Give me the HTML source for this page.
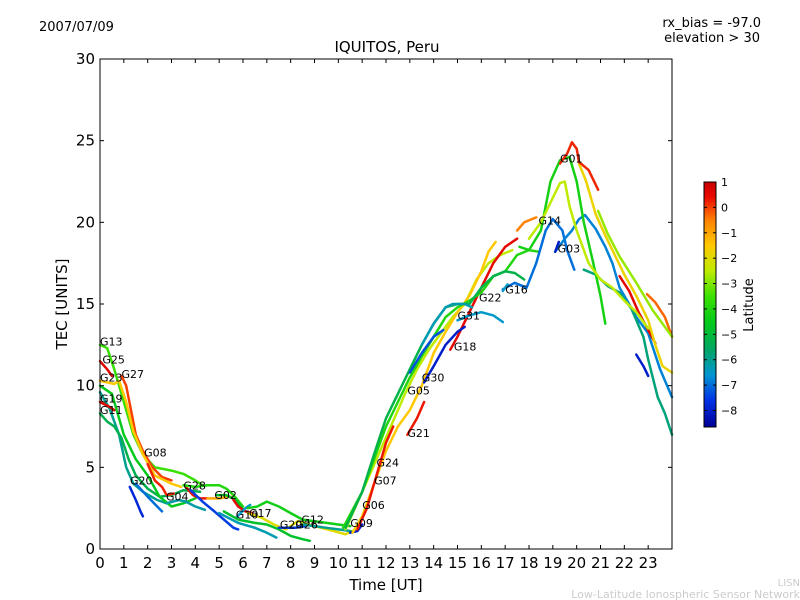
<!DOCTYPE html>
<html><head><meta charset="utf-8"><style>
html,body{margin:0;padding:0;background:#fff;width:800px;height:600px;overflow:hidden}
svg{display:block;font-family:"DejaVu Sans","Liberation Sans",sans-serif}
</style></head><body>
<svg id="chart" width="800" height="600" viewBox="0 0 800 600">
<rect x="0" y="0" width="800" height="600" fill="#fff"/>
<text x="39" y="31" font-size="13">2007/07/09</text>
<text x="761" y="27" font-size="13" text-anchor="end">rx_bias = -97.0</text>
<text x="760" y="42" font-size="13" text-anchor="end">elevation &gt; 30</text>
<text x="387" y="52" font-size="15" text-anchor="middle">IQUITOS, Peru</text>
<g id="plot"></g>
<rect x="100" y="59" width="572" height="490" fill="none" stroke="#000" stroke-width="1"/>
<g id="axes"></g>
<text x="386" y="590" font-size="15" text-anchor="middle">Time [UT]</text>
<text x="67" y="304" font-size="15" text-anchor="middle" transform="rotate(-90 67 304)">TEC [UNITS]</text>
<g id="cbar"></g>
<text x="753" y="305" font-size="13" text-anchor="middle" transform="rotate(-90 753 305)">Latitude</text>
<text x="800" y="586" font-size="10" fill="#ccc" text-anchor="end">LISN</text>
<text x="800" y="598" font-size="11" fill="#ccc" text-anchor="end">Low-Latitude Ionospheric Sensor Network</text>
</svg>
<script>
const xTicks=[0,1,2,3,4,5,6,7,8,9,10,11,12,13,14,15,16,17,18,19,20,21,22,23];
const yTicks=[0,5,10,15,20,25,30];
const cbTicks=[1,0,-1,-2,-3,-4,-5,-6,-7,-8];
const seriesLat=[-3.6,0.6,0,0,-1.5,-6,0.6,-5.3,-4.5,-7.8,-7,0.2,-6.2,0.3,-1,-4,-7.5,-4.8,0.5,-6.5,-4.3,-2,-6.3,-4.8,-7.5,-6,-8,
-2.5,-1.5,0.3,0.3,0.5,-0.5,-4,-5.2,-6.3,-6.5,-8,-7.3,-7,-6.8,-8,-5.8,-6.5,-8,0.5,-0.3,-1.8,-2.8,-4.2,-2.5,0.2];
const seriesPts=[
[[0,12.5],[0.3,12.3],[0.6,11],[1,9],[1.4,7],[1.8,5.8],[2.3,5],[3,4.8],[3.5,4.6],[4,4.2],[4.3,3.9]],
[[0,11.5],[0.3,11],[0.5,10.6]],
[[0.9,10.6],[1.1,10],[1.3,8.5],[1.5,7],[1.8,6]],
[[1.8,6],[2.2,5],[2.6,4.4],[3,4.2]],
[[0,10.3],[0.6,10.1],[0.8,10.3],[1.1,9],[1.4,7.2],[1.8,5.8],[2.3,4.5],[3,4],[3.4,3.8]],
[[0,9.6],[0.4,8.6],[0.8,7],[1.1,5],[1.4,4],[1.8,3.5],[2.4,3],[2.8,2.8]],
[[0,9],[0.4,8.7],[0.6,8.5]],
[[0,8.3],[0.3,7.8],[0.6,7.5],[0.9,6.8],[1.2,5.5],[1.5,4.5],[2,3.7],[2.5,3.2],[3,3.3],[3.5,3.6],[4.2,3.5]],
[[0,10],[0.5,9.5],[0.8,8],[1,7],[1.5,5.5],[2,4.5],[2.5,3.2],[3,2.6],[3.5,2.8],[4,3.1]],
[[1.25,3.8],[1.5,3],[1.7,2.3],[1.8,2]],
[[1.5,4],[2,3.2],[2.4,2.6],[2.6,2.3]],
[[2,5.2],[2.3,4.2],[2.6,3.8],[2.8,3.3],[3.1,3.4]],
[[2.8,2.8],[3.3,3],[3.6,2.9],[4,2.6],[4.4,2.4]],
[[3.6,3.8],[3.9,3.3],[4.2,3.1],[4.5,3.1]],
[[4.5,3.1],[5,3.1],[5.5,3.2]],
[[3.5,3.9],[4,3.8],[4.5,3.9],[5,3.9],[5.3,3.7],[5.6,3.3],[6,2.6]],
[[3.8,3.6],[4.3,2.9],[4.8,2.3],[5.2,1.8],[5.6,1.3],[5.8,1.2]],
[[4.9,3.3],[5.3,3.3],[5.7,3],[6,2.4]],
[[5.6,3],[5.8,2.6],[6.1,2.3],[6.4,2.2]],
[[5.7,1.9],[6.1,2.5],[6.3,2.7]],
[[6.2,2.5],[6.6,2.6],[7,2.9],[7.5,2.6],[8,2.2],[8.5,1.8],[9,1.7],[9.5,1.6],[10,1.5],[10.5,1.4]],
[[6.2,2.2],[6.8,1.9],[7.3,1.5],[7.8,1.2],[8.3,1.7],[9,1.4],[9.8,1.1],[10.3,0.9],[10.6,1.1]],
[[5,2.2],[5.8,1.6],[6.5,1.3],[7,1],[7.4,0.7]],
[[5.2,2.3],[5.8,1.8],[6.5,1.6],[7,1.5],[7.5,1.2],[8,0.8],[8.5,0.6],[8.8,0.5]],
[[7.5,1.3],[8.2,1.3],[8.6,1.4]],
[[8.5,1.5],[9,1.4],[9.5,1.3],[10,1.2],[10.5,1.1]],
[[10.5,1.0],[10.8,1.1],[11,1.5]],
[[10.3,1.2],[11,3.5],[11.6,5.5],[12.2,7.5],[12.8,9.5],[13.3,11],[13.8,12.2],[14.3,13.2],[14.8,14.2],[15.3,15],[15.8,16.5],[16.3,17.5],[16.8,18],[17.3,18.3]],
[[10.6,1.0],[11,2],[11.5,4],[12,6],[12.5,7.5],[13,8.5],[13.5,10],[14,12],[14.5,13.3],[15,14.5],[15.5,15.5],[16,17],[16.3,18.2],[16.6,18.8]],
[[10.8,1.2],[11.2,2.5],[11.6,4.5],[12,6.5],[12.3,7.5]],
[[12.9,7],[13.3,8],[13.6,9]],
[[14.7,12.2],[15,13],[15.5,14.5],[16,16],[16.5,17.5],[17,18.5],[17.5,19]],
[[17.5,19.5],[17.8,20],[18.3,20.3]],
[[10.2,1.3],[11,3.5],[11.5,5.5],[12,7.5],[12.5,9],[13,10.5],[13.5,11.8],[14,13],[14.5,14.2],[15,14.8],[15.5,15.2],[16,15.7],[16.5,16.7],[17,17],[17.5,18],[18,18.3],[18.4,18.2]],
[[10.3,1.3],[11,3.5],[11.5,5.8],[12,8],[12.5,9.5],[13,11],[13.5,12.5],[14,13.8],[14.5,14.8],[15,15],[15.5,15],[16,16],[16.5,16.7],[17,17],[17.4,16.9],[17.8,16.5]],
[[13.5,12.5],[14,13.8],[14.5,14.8],[14.8,15],[15.3,15],[15.6,14.8]],
[[15,14],[15.5,14.3],[16,14.5],[16.5,14.3],[16.9,13.9]],
[[13.6,10.2],[14,11.2],[14.5,12.5],[15,13.3],[15.3,13.6]],
[[13,10.8],[13.5,12],[14,13],[14.4,13.4]],
[[16.9,15.9],[17.4,16.3],[17.9,16],[18.3,17.5],[18.7,19.5],[19,20.2],[19.4,19.5],[19.6,18.3],[19.9,17.1]],
[[19.1,18.2],[19.5,19],[19.8,19.5],[20.1,20.2],[20.35,20.45],[20.8,19.6],[21.2,18.5],[21.5,17.5],[21.8,16],[22.2,15],[22.5,14.2],[23,13.2],[23.5,11],[24,9.3]],
[[19.1,18.2],[19.25,18.8]],
[[20.3,17.1],[20.8,16.8],[21.3,16.1],[21.8,15.7],[22.3,14.7],[22.8,13],[23,11.6],[23.4,9.3],[23.7,8.3],[24,7.0]],
[[16.9,15.8],[17.1,16.2]],
[[22.5,11.9],[22.8,11.2],[23,10.6]],
[[21.8,16.7],[22.2,15.8],[22.6,14.5],[23.3,12.6]],
[[22.95,15.6],[23.3,15.1],[23.7,14.2],[24,13]],
[[20.1,23.6],[20.4,22.5],[20.8,20.5],[21.2,19.2],[21.6,18],[22,16.8],[22.5,15.5],[23,14],[23.3,12.5],[23.6,11.2],[24,10.8]],
[[20.9,20.7],[21.3,19.3],[21.8,17.9],[22.5,16.3],[23.2,14.6],[24,13]],
[[17.6,18.5],[18,18.3],[18.5,19.5],[18.9,22.5],[19.3,23.8],[19.7,24],[20,22.5],[20.3,20],[20.7,17.5],[21,15.5],[21.2,13.8]],
[[18,19],[18.5,20],[19,21.5],[19.3,22.4],[19.5,22.5],[19.7,21],[20,19.5],[20.5,17.5],[21,16.5],[21.5,16],[22,15.2],[22.5,14.5],[23,13.5]],
[[19.3,23.6],[19.6,24.2],[19.8,24.9],[20,24.5],[20.1,23.7],[20.5,23.2],[20.9,22]]
];
const labelNames=["G13","G25","G23","G27","G19","G11","G08","G20","G04","G28","G02","G10","G17","G29","G26","G12","G09","G06","G07","G24","G21","G05","G30","G18","G31","G22","G16","G14","G03","G01"];
const labelHour=[0,0.1,0,0.9,0,0,1.85,1.26,2.77,3.5,4.8,5.7,6.25,7.55,8.2,8.45,10.5,11,11.5,11.6,12.9,12.9,13.5,14.85,15,15.9,17,18.4,19.2,19.3];
const labelTec=[12.7,11.6,10.5,10.7,9.2,8.5,5.9,4.2,3.2,3.9,3.3,2.1,2.2,1.5,1.5,1.8,1.6,2.7,4.2,5.3,7.1,9.7,10.5,12.4,14.3,15.4,15.9,20.1,18.4,23.9];

const NS="http://www.w3.org/2000/svg";
const X0=100,X1=672,Y0=549,Y1=59;
const xs=h=>X0+h*(X1-X0)/24;
const ys=t=>Y0-t*(Y0-Y1)/30;
const vmin=-8.65,vmax=1.0;
const cmStops=[[-8.65,[0,0,150]],[-7.6,[0,50,230]],[-6.6,[0,150,210]],[-5.6,[0,165,100]],[-4.6,[0,200,30]],[-3.5,[60,225,0]],[-2.5,[190,235,0]],[-1.5,[255,200,0]],[-0.5,[255,130,0]],[0.4,[235,10,0]],[1.0,[200,0,0]]];
function cmap(lat){
 if(lat<=cmStops[0][0])return 'rgb('+cmStops[0][1]+')';
 for(let i=1;i<cmStops.length;i++){if(lat<=cmStops[i][0]){const a=cmStops[i-1],b=cmStops[i];const f=(lat-a[0])/(b[0]-a[0]);
  return 'rgb('+a[1].map((c,k)=>Math.round(c+(b[1][k]-c)*f)).join(',')+')';}}
 return 'rgb('+cmStops[cmStops.length-1][1]+')';}
function mk(tag,attrs,parent){const e=document.createElementNS(NS,tag);for(const k in attrs)e.setAttribute(k,attrs[k]);parent.appendChild(e);return e;}
const plot=document.getElementById('plot');
seriesPts.forEach((pts,i)=>{
 const d=pts.map((p,j)=>(j?'L':'M')+xs(p[0]).toFixed(1)+' '+ys(p[1]).toFixed(1)).join(' ');
 const p=mk('path',{d:d,fill:'none',stroke:cmap(seriesLat[i]),'stroke-width':2.5,'stroke-linejoin':'round','stroke-linecap':'round'},plot);
 
 
});
labelNames.forEach((n,i)=>{
 const t=mk('text',{x:xs(labelHour[i]).toFixed(1),y:(ys(labelTec[i])+4).toFixed(1),'font-size':11},plot);
 t.textContent=n;
 
 
});
const ax=document.getElementById('axes');
xTicks.forEach(v=>{
 const x=xs(v);
 mk('line',{x1:x,x2:x,y1:Y0,y2:Y0-4,stroke:'#000'},ax);
 mk('line',{x1:x,x2:x,y1:Y1,y2:Y1+4,stroke:'#000'},ax);
 const t=mk('text',{x:x,y:568,'font-size':15,'text-anchor':'middle'},ax);
 t.textContent=v;
 
 
});
yTicks.forEach(v=>{
 const y=ys(v);
 mk('line',{x1:X0,x2:X0+4,y1:y,y2:y,stroke:'#000'},ax);
 mk('line',{x1:X1,x2:X1-4,y1:y,y2:y,stroke:'#000'},ax);
 const t=mk('text',{x:95,y:y+5,'font-size':15,'text-anchor':'end'},ax);
 t.textContent=v;
 
 
});
const cb=document.getElementById('cbar');
const CT=182,CB=427,CX=704,CW=12;
for(let y=CT;y<CB;y++){const lat=vmax-(y-CT+0.5)/(CB-CT)*(vmax-vmin);
 mk('rect',{x:CX,y:y,width:CW,height:1.2,fill:cmap(lat)},cb);}
mk('rect',{x:CX,y:CT,width:CW,height:CB-CT,fill:'none',stroke:'#000','stroke-width':1},cb);
cbTicks.forEach(v=>{
 const y=CT+(vmax-v)/(vmax-vmin)*(CB-CT);
 mk('line',{x1:CX,x2:CX+3,y1:y,y2:y,stroke:'#000'},cb);
 mk('line',{x1:CX+CW,x2:CX+CW-3,y1:y,y2:y,stroke:'#000'},cb);
 const t=mk('text',{x:721,y:y+4,'font-size':11},cb);
 t.textContent=v<0?'\u2212'+(-v):v;
 
 
});
</script>
</body></html>
